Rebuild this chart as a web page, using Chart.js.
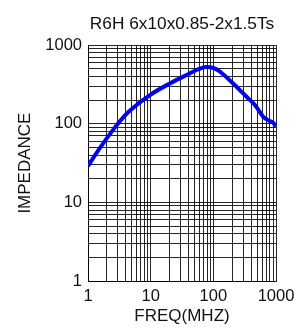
<!DOCTYPE html>
<html>
<head>
<meta charset="utf-8">
<script src="https://cdn.jsdelivr.net/npm/chart.js@4.4.1/dist/chart.umd.min.js"></script>
<style>
  html, body { margin: 0; padding: 0; background: #fff; }
  #wrap { width: 305px; height: 329px; }
</style>
</head>
<body>
<div id="wrap"><canvas id="chart" width="305" height="329"></canvas></div>
<script>
// Data
const freqMHz = [1, 1.46, 2.7, 4.5, 9.75, 20.3, 42, 58, 76, 100, 127, 207, 265, 339, 461, 625, 720, 800, 900, 1000];
const impedance = [29, 46, 90, 143, 232, 326, 436, 495, 528, 512, 462, 326, 268, 221, 173, 123, 113, 108, 103, 93];

// Axis ticks
const decadeLabels = [1, 10, 100, 1000];
const minorSteps = [1, 2, 3, 4, 5, 6, 7, 8, 9];

const chartTitle = 'R6H 6x10x0.85-2x1.5Ts';
const xTitle = 'FREQ(MHZ)';
const yTitle = 'IMPEDANCE';

// Grid values: every 1..9 step in each decade, plus the last decade
const gridValues = [];
decadeLabels.slice(0, -1).forEach(d => {
    minorSteps.forEach(m => gridValues.push(d * m));
});
gridValues.push(decadeLabels[decadeLabels.length - 1]);

const textColor = '#111';
const gridColor = 'rgba(0,0,0,0.85)';
const fontFamily = 'Liberation Sans, Arial, sans-serif';

function setTicks(scale) {
    scale.ticks = gridValues.map(v => ({ value: v }));
}

function tickLabel(value) {
    return decadeLabels.includes(value) ? String(value) : '';
}

const ctx = document.getElementById('chart').getContext('2d');
new Chart(ctx, {
    type: 'line',
    data: {
        datasets: [{
            data: freqMHz.map((f, i) => ({ x: f, y: impedance[i] })),
            borderColor: '#0000ff',
            borderWidth: 4,
            pointRadius: 0,
            fill: false,
            tension: 0.35
        }]
    },
    options: {
        responsive: false,
        animation: false,
        layout: { padding: { left: 0, right: 29, top: 0, bottom: 0 } },
        plugins: {
            legend: { display: false },
            tooltip: { enabled: false },
            title: {
                display: true,
                text: chartTitle,
                fullSize: false,
                color: textColor,
                font: { family: fontFamily, size: 17.3, weight: 'normal' },
                padding: { top: 14.2, bottom: 10.2 }
            }
        },
        scales: {
            x: {
                type: 'logarithmic',
                min: 1,
                max: 1000,
                afterBuildTicks: setTicks,
                afterFit: (scale) => { scale.height = 48; },
                border: { display: true, color: gridColor, width: 1 },
                grid: { color: gridColor, lineWidth: 1, drawTicks: false },
                ticks: {
                    autoSkip: false,
                    maxRotation: 0,
                    padding: 6,
                    color: textColor,
                    font: { family: fontFamily, size: 16.5 },
                    callback: tickLabel
                },
                title: {
                    display: true,
                    text: xTitle,
                    color: textColor,
                    font: { family: fontFamily, size: 17 },
                    padding: { top: 0, bottom: 2 }
                }
            },
            y: {
                type: 'logarithmic',
                min: 1,
                max: 1000,
                afterBuildTicks: setTicks,
                afterFit: (scale) => { scale.width = 88; },
                border: { display: true, color: gridColor, width: 1 },
                grid: { color: gridColor, lineWidth: 1, drawTicks: false },
                ticks: {
                    autoSkip: false,
                    padding: 6,
                    color: textColor,
                    font: { family: fontFamily, size: 16.5 },
                    callback: tickLabel
                },
                title: {
                    display: true,
                    text: yTitle,
                    color: textColor,
                    font: { family: fontFamily, size: 17 },
                    padding: { top: 15, bottom: 0 }
                }
            }
        }
    }
});
</script>
</body>
</html>
